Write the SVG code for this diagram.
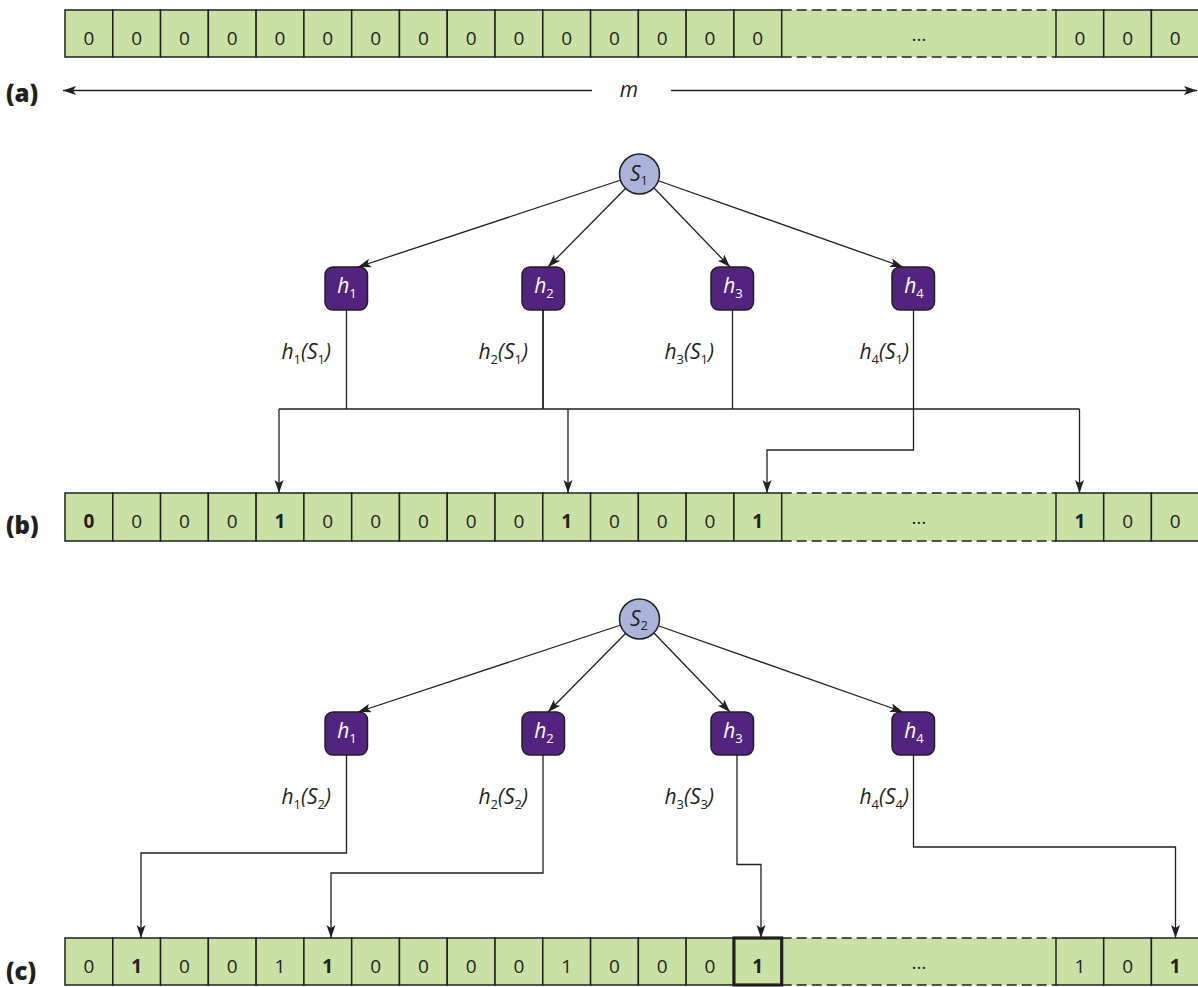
<svg xmlns="http://www.w3.org/2000/svg" width="1198" height="987" viewBox="0 0 1198 987">
<style>
.cell{fill:#c9e1a5;stroke:#231f20;stroke-width:1.5}
.dfill{fill:#c9e1a5;stroke:none}
.dash{stroke:#231f20;stroke-width:1.5;stroke-dasharray:10 5;fill:none}
.d{font-family:"Open Sans","Liberation Sans",sans-serif;font-size:19px;fill:#231f20;text-anchor:middle}
.b{font-weight:700}
.lab{font-family:"Open Sans","Liberation Sans",sans-serif;font-size:24px;font-weight:800;fill:#231f20}
.it{font-family:"Open Sans","Liberation Sans",sans-serif;font-style:italic;font-size:21px;fill:#231f20}
.hb{fill:#52247f;stroke:#231f20;stroke-width:1.5}
.ht{font-family:"Open Sans","Liberation Sans",sans-serif;font-style:italic;font-size:21px;fill:#ffffff;text-anchor:middle}
.sc{fill:#aab3d9;stroke:#231f20;stroke-width:1.5}
.ln{stroke:#231f20;stroke-width:1.3;fill:none}
.ar{stroke:#231f20;stroke-width:1.3;fill:none;marker-end:url(#ah)}
.sub{font-size:13px;font-style:normal}
</style>
<defs>
<marker id="ah" markerUnits="userSpaceOnUse" markerWidth="14" markerHeight="10" refX="13" refY="4.5" orient="auto">
<path d="M0,0 L13,4.5 L0,9 L3,4.5 Z" fill="#231f20"/>
</marker>
</defs>

<!-- Row (a) -->
<g id="row-a">
<rect class="dfill" x="781.7" y="10" width="274.3" height="47"/>
<line class="dash" x1="781.7" y1="10" x2="1056" y2="10"/>
<line class="dash" x1="781.7" y1="57" x2="1056" y2="57"/>
<rect class="cell" x="65" y="10" width="47.78" height="47"/>
<rect class="cell" x="112.78" y="10" width="47.78" height="47"/>
<rect class="cell" x="160.56" y="10" width="47.78" height="47"/>
<rect class="cell" x="208.34" y="10" width="47.78" height="47"/>
<rect class="cell" x="256.12" y="10" width="47.78" height="47"/>
<rect class="cell" x="303.9" y="10" width="47.78" height="47"/>
<rect class="cell" x="351.68" y="10" width="47.78" height="47"/>
<rect class="cell" x="399.46" y="10" width="47.78" height="47"/>
<rect class="cell" x="447.24" y="10" width="47.78" height="47"/>
<rect class="cell" x="495.02" y="10" width="47.78" height="47"/>
<rect class="cell" x="542.8" y="10" width="47.78" height="47"/>
<rect class="cell" x="590.58" y="10" width="47.78" height="47"/>
<rect class="cell" x="638.36" y="10" width="47.78" height="47"/>
<rect class="cell" x="686.14" y="10" width="47.78" height="47"/>
<rect class="cell" x="733.92" y="10" width="47.78" height="47"/>
<rect class="cell" x="1056" y="10" width="47.7" height="47"/>
<rect class="cell" x="1103.7" y="10" width="47.7" height="47"/>
<rect class="cell" x="1151.4" y="10" width="47.7" height="47"/>
<text class="d" x="88.9" y="45">0</text>
<text class="d" x="136.7" y="45">0</text>
<text class="d" x="184.4" y="45">0</text>
<text class="d" x="232.2" y="45">0</text>
<text class="d" x="280" y="45">0</text>
<text class="d" x="327.8" y="45">0</text>
<text class="d" x="375.6" y="45">0</text>
<text class="d" x="423.4" y="45">0</text>
<text class="d" x="471.1" y="45">0</text>
<text class="d" x="518.9" y="45">0</text>
<text class="d" x="566.7" y="45">0</text>
<text class="d" x="614.5" y="45">0</text>
<text class="d" x="662.3" y="45">0</text>
<text class="d" x="710" y="45">0</text>
<text class="d" x="757.8" y="45">0</text>
<text class="d" x="919" y="41">…</text>
<text class="d" x="1079.9" y="45">0</text>
<text class="d" x="1127.6" y="45">0</text>
<text class="d" x="1175.2" y="45">0</text>
</g>
<text class="lab" x="6" y="102">(a)</text>
<g id="m-arrow">
<line class="ar" x1="592" y1="90.5" x2="63" y2="90.5"/>
<line class="ar" x1="671" y1="90.5" x2="1197" y2="90.5"/>
<text class="it" x="629" y="97" text-anchor="middle">m</text>
</g>

<!-- Connectors -->
<g id="connectors">
<line class="ar" x1="621" y1="180" x2="358" y2="267"/>
<line class="ar" x1="626" y1="188" x2="548" y2="267"/>
<line class="ar" x1="654" y1="188" x2="730" y2="267"/>
<line class="ar" x1="659" y1="181" x2="903" y2="267"/>
<line class="ln" x1="346.5" y1="310" x2="346.5" y2="409"/>
<line class="ln" x1="543" y1="310" x2="543" y2="409" style="stroke-width:1.8"/>
<line class="ln" x1="732.5" y1="310" x2="732.5" y2="409"/>
<line class="ln" x1="279" y1="409" x2="1079.5" y2="409"/>
<line class="ar" x1="279" y1="409" x2="279" y2="493"/>
<line class="ar" x1="568" y1="409" x2="568" y2="493"/>
<line class="ar" x1="1079.5" y1="409" x2="1079.5" y2="493"/>
<polyline class="ar" points="913.5,310 913.5,450 767,450 767,493"/>
<line class="ar" x1="621" y1="625" x2="358" y2="712"/>
<line class="ar" x1="626" y1="633" x2="548" y2="712"/>
<line class="ar" x1="654" y1="633" x2="730" y2="712"/>
<line class="ar" x1="659" y1="626" x2="903" y2="712"/>
<polyline class="ar" points="346.5,755 346.5,853 141,853 141,938"/>
<polyline class="ar" points="543,755 543,873 331,873 331,938"/>
<polyline class="ar" points="737,755 737,864.5 761,864.5 761,938"/>
<polyline class="ar" points="913.5,755 913.5,847 1175.5,847 1175.5,938"/>
</g>

<!-- (b) nodes -->
<g id="S1"><circle class="sc" cx="639.5" cy="174" r="20"/><text class="ht" x="639" y="181" style="fill:#231f20">S<tspan class="sub" dy="4">1</tspan></text></g>
<g id="b-h1"><rect class="hb" x="325" y="267" width="42.5" height="43" rx="8"/><text class="ht" x="347" y="293">h<tspan class="sub" dy="5">1</tspan></text></g>
<g id="b-h2"><rect class="hb" x="522" y="267" width="42.5" height="43" rx="8"/><text class="ht" x="544" y="293">h<tspan class="sub" dy="5">2</tspan></text></g>
<g id="b-h3"><rect class="hb" x="711" y="267" width="42.5" height="43" rx="8"/><text class="ht" x="733" y="293">h<tspan class="sub" dy="5">3</tspan></text></g>
<g id="b-h4"><rect class="hb" x="892" y="267" width="42.5" height="43" rx="8"/><text class="ht" x="914" y="293">h<tspan class="sub" dy="5">4</tspan></text></g>
<g id="b-labels">
<text class="it" x="331" y="359" text-anchor="end">h<tspan class="sub" dy="5">1</tspan><tspan dy="-5">(S</tspan><tspan class="sub" dy="5">1</tspan><tspan dy="-5">)</tspan></text>
<text class="it" x="528" y="359" text-anchor="end">h<tspan class="sub" dy="5">2</tspan><tspan dy="-5">(S</tspan><tspan class="sub" dy="5">1</tspan><tspan dy="-5">)</tspan></text>
<text class="it" x="714" y="359" text-anchor="end">h<tspan class="sub" dy="5">3</tspan><tspan dy="-5">(S</tspan><tspan class="sub" dy="5">1</tspan><tspan dy="-5">)</tspan></text>
<text class="it" x="909" y="359" text-anchor="end">h<tspan class="sub" dy="5">4</tspan><tspan dy="-5">(S</tspan><tspan class="sub" dy="5">1</tspan><tspan dy="-5">)</tspan></text>
</g>

<!-- Row (b) -->
<g id="row-b">
<rect class="dfill" x="781.7" y="493" width="274.3" height="48"/>
<line class="dash" x1="781.7" y1="493" x2="1056" y2="493"/>
<line class="dash" x1="781.7" y1="541" x2="1056" y2="541"/>
<rect class="cell" x="65" y="493" width="47.78" height="48"/>
<rect class="cell" x="112.78" y="493" width="47.78" height="48"/>
<rect class="cell" x="160.56" y="493" width="47.78" height="48"/>
<rect class="cell" x="208.34" y="493" width="47.78" height="48"/>
<rect class="cell" x="256.12" y="493" width="47.78" height="48"/>
<rect class="cell" x="303.9" y="493" width="47.78" height="48"/>
<rect class="cell" x="351.68" y="493" width="47.78" height="48"/>
<rect class="cell" x="399.46" y="493" width="47.78" height="48"/>
<rect class="cell" x="447.24" y="493" width="47.78" height="48"/>
<rect class="cell" x="495.02" y="493" width="47.78" height="48"/>
<rect class="cell" x="542.8" y="493" width="47.78" height="48"/>
<rect class="cell" x="590.58" y="493" width="47.78" height="48"/>
<rect class="cell" x="638.36" y="493" width="47.78" height="48"/>
<rect class="cell" x="686.14" y="493" width="47.78" height="48"/>
<rect class="cell" x="733.92" y="493" width="47.78" height="48"/>
<rect class="cell" x="1056" y="493" width="47.7" height="48"/>
<rect class="cell" x="1103.7" y="493" width="47.7" height="48"/>
<rect class="cell" x="1151.4" y="493" width="47.7" height="48"/>
<text class="d b" x="88.9" y="528">0</text>
<text class="d" x="136.7" y="528">0</text>
<text class="d" x="184.4" y="528">0</text>
<text class="d" x="232.2" y="528">0</text>
<text class="d b" x="280" y="528">1</text>
<text class="d" x="327.8" y="528">0</text>
<text class="d" x="375.6" y="528">0</text>
<text class="d" x="423.4" y="528">0</text>
<text class="d" x="471.1" y="528">0</text>
<text class="d" x="518.9" y="528">0</text>
<text class="d b" x="566.7" y="528">1</text>
<text class="d" x="614.5" y="528">0</text>
<text class="d" x="662.3" y="528">0</text>
<text class="d" x="710" y="528">0</text>
<text class="d b" x="757.8" y="528">1</text>
<text class="d" x="919" y="524">…</text>
<text class="d b" x="1079.9" y="528">1</text>
<text class="d" x="1127.6" y="528">0</text>
<text class="d" x="1175.2" y="528">0</text>
</g>
<text class="lab" x="6" y="534">(b)</text>

<!-- (c) nodes -->
<g id="S2"><circle class="sc" cx="639.5" cy="619" r="20"/><text class="ht" x="639" y="626" style="fill:#231f20">S<tspan class="sub" dy="4">2</tspan></text></g>
<g id="c-h1"><rect class="hb" x="325" y="712" width="42.5" height="43" rx="8"/><text class="ht" x="347" y="738">h<tspan class="sub" dy="5">1</tspan></text></g>
<g id="c-h2"><rect class="hb" x="522" y="712" width="42.5" height="43" rx="8"/><text class="ht" x="544" y="738">h<tspan class="sub" dy="5">2</tspan></text></g>
<g id="c-h3"><rect class="hb" x="711" y="712" width="42.5" height="43" rx="8"/><text class="ht" x="733" y="738">h<tspan class="sub" dy="5">3</tspan></text></g>
<g id="c-h4"><rect class="hb" x="892" y="712" width="42.5" height="43" rx="8"/><text class="ht" x="914" y="738">h<tspan class="sub" dy="5">4</tspan></text></g>
<g id="c-labels">
<text class="it" x="331" y="804" text-anchor="end">h<tspan class="sub" dy="5">1</tspan><tspan dy="-5">(S</tspan><tspan class="sub" dy="5">2</tspan><tspan dy="-5">)</tspan></text>
<text class="it" x="528" y="804" text-anchor="end">h<tspan class="sub" dy="5">2</tspan><tspan dy="-5">(S</tspan><tspan class="sub" dy="5">2</tspan><tspan dy="-5">)</tspan></text>
<text class="it" x="714" y="804" text-anchor="end">h<tspan class="sub" dy="5">3</tspan><tspan dy="-5">(S</tspan><tspan class="sub" dy="5">3</tspan><tspan dy="-5">)</tspan></text>
<text class="it" x="909" y="804" text-anchor="end">h<tspan class="sub" dy="5">4</tspan><tspan dy="-5">(S</tspan><tspan class="sub" dy="5">4</tspan><tspan dy="-5">)</tspan></text>
</g>

<!-- Row (c) -->
<g id="row-c">
<rect class="dfill" x="781.7" y="938" width="274.3" height="47"/>
<line class="dash" x1="781.7" y1="938" x2="1056" y2="938"/>
<line class="dash" x1="781.7" y1="985" x2="1056" y2="985"/>
<rect class="cell" x="65" y="938" width="47.78" height="47"/>
<rect class="cell" x="112.78" y="938" width="47.78" height="47"/>
<rect class="cell" x="160.56" y="938" width="47.78" height="47"/>
<rect class="cell" x="208.34" y="938" width="47.78" height="47"/>
<rect class="cell" x="256.12" y="938" width="47.78" height="47"/>
<rect class="cell" x="303.9" y="938" width="47.78" height="47"/>
<rect class="cell" x="351.68" y="938" width="47.78" height="47"/>
<rect class="cell" x="399.46" y="938" width="47.78" height="47"/>
<rect class="cell" x="447.24" y="938" width="47.78" height="47"/>
<rect class="cell" x="495.02" y="938" width="47.78" height="47"/>
<rect class="cell" x="542.8" y="938" width="47.78" height="47"/>
<rect class="cell" x="590.58" y="938" width="47.78" height="47"/>
<rect class="cell" x="638.36" y="938" width="47.78" height="47"/>
<rect class="cell" x="686.14" y="938" width="47.78" height="47"/>
<rect class="cell" x="733.92" y="938" width="47.78" height="47" style="stroke-width:3.2"/>
<rect class="cell" x="1056" y="938" width="47.7" height="47"/>
<rect class="cell" x="1103.7" y="938" width="47.7" height="47"/>
<rect class="cell" x="1151.4" y="938" width="47.7" height="47"/>
<text class="d" x="88.9" y="973">0</text>
<text class="d b" x="136.7" y="973">1</text>
<text class="d" x="184.4" y="973">0</text>
<text class="d" x="232.2" y="973">0</text>
<text class="d" x="280" y="973">1</text>
<text class="d b" x="327.8" y="973">1</text>
<text class="d" x="375.6" y="973">0</text>
<text class="d" x="423.4" y="973">0</text>
<text class="d" x="471.1" y="973">0</text>
<text class="d" x="518.9" y="973">0</text>
<text class="d" x="566.7" y="973">1</text>
<text class="d" x="614.5" y="973">0</text>
<text class="d" x="662.3" y="973">0</text>
<text class="d" x="710" y="973">0</text>
<text class="d b" x="757.8" y="973">1</text>
<text class="d" x="919" y="969">…</text>
<text class="d" x="1079.9" y="973">1</text>
<text class="d" x="1127.6" y="973">0</text>
<text class="d b" x="1175.2" y="973">1</text>
</g>
<text class="lab" x="6" y="980">(c)</text>
</svg>
